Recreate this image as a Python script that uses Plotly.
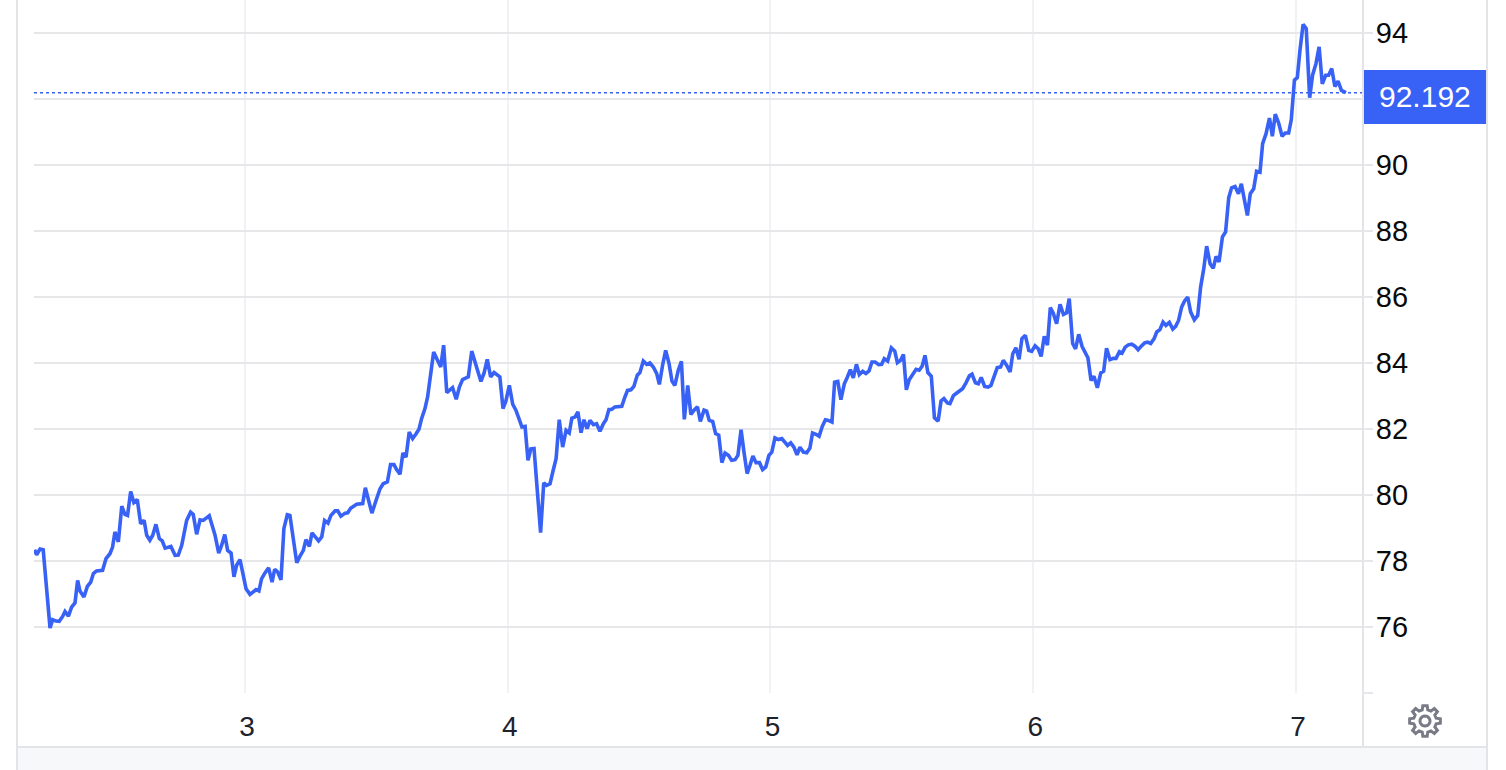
import numpy as np
import plotly.graph_objects as go

x_values = [
    2.199, 2.207, 2.220, 2.232, 2.258, 2.268, 2.281, 2.293, 2.306, 2.315, 2.328, 2.340, 2.353, 2.363, 2.372, 2.387,
    2.400, 2.413, 2.423, 2.435, 2.458, 2.471, 2.486, 2.496, 2.505, 2.518, 2.531, 2.543, 2.553, 2.565, 2.577, 2.590,
    2.603, 2.616, 2.626, 2.638, 2.649, 2.661, 2.674, 2.685, 2.696, 2.718, 2.734, 2.746, 2.759, 2.778, 2.793, 2.803,
    2.816, 2.829, 2.841, 2.864, 2.886, 2.900, 2.911, 2.923, 2.934, 2.947, 2.958, 2.968, 2.981,
    2.991, 3.004, 3.019, 3.034, 3.042, 3.053, 3.063, 3.076, 3.090, 3.103, 3.113, 3.124, 3.137, 3.148, 3.161, 3.171,
    3.184, 3.197, 3.209, 3.222, 3.232, 3.245, 3.255, 3.268, 3.280, 3.292, 3.303, 3.316, 3.327, 3.343, 3.353, 3.365,
    3.381, 3.391, 3.402, 3.425, 3.448, 3.458, 3.471, 3.483,
    3.499, 3.514, 3.526, 3.542, 3.554, 3.567, 3.577, 3.590, 3.601, 3.613, 3.625, 3.638, 3.650, 3.662, 3.672, 3.685,
    3.695, 3.708, 3.718, 3.745, 3.756, 3.768, 3.790, 3.804, 3.816, 3.828, 3.850, 3.863, 3.886, 3.898, 3.910, 3.922,
    3.935, 3.948, 3.970, 3.982, 3.993, 4.006, 4.019, 4.031, 4.043, 4.054, 4.066, 4.077, 4.088, 4.100, 4.125, 4.137,
    4.148, 4.161, 4.173, 4.184, 4.196, 4.209, 4.222, 4.234, 4.244, 4.256, 4.267,
    4.279, 4.290, 4.302, 4.313, 4.326, 4.338, 4.351, 4.364, 4.374, 4.385, 4.395, 4.408, 4.434, 4.446, 4.456, 4.469,
    4.480, 4.493, 4.503, 4.516, 4.529, 4.541, 4.554, 4.567, 4.577, 4.590, 4.601, 4.614, 4.625, 4.636, 4.649, 4.661,
    4.672, 4.685, 4.697, 4.709, 4.722, 4.733,
    4.747, 4.757, 4.767, 4.780, 4.791, 4.803, 4.815, 4.827, 4.840, 4.852, 4.865, 4.876, 4.888, 4.899, 4.911, 4.922,
    4.933, 4.945, 4.958, 4.970, 4.982, 4.994, 5.005, 5.017, 5.030, 5.043, 5.055, 5.065, 5.077, 5.089, 5.101, 5.112,
    5.125, 5.138, 5.150, 5.160, 5.173, 5.185, 5.197, 5.209, 5.220, 5.234, 5.244, 5.256, 5.268, 5.281, 5.292, 5.304,
    5.315, 5.327, 5.338, 5.351, 5.363, 5.375, 5.386, 5.398, 5.412, 5.423, 5.433, 5.446,
    5.460, 5.473, 5.483, 5.495, 5.506, 5.517, 5.528, 5.541, 5.554, 5.566, 5.577, 5.588, 5.599, 5.612, 5.624, 5.638,
    5.649, 5.660, 5.673, 5.683, 5.696, 5.709, 5.721, 5.731, 5.744, 5.757, 5.767, 5.780, 5.791, 5.802, 5.815, 5.828,
    5.839, 5.851, 5.863, 5.876, 5.886, 5.899, 5.912, 5.922, 5.934, 5.946, 5.957, 5.970, 5.983, 5.994, 6.007, 6.019,
    6.030, 6.042, 6.054, 6.065, 6.076, 6.089, 6.102, 6.115, 6.127, 6.137, 6.150, 6.161, 6.173, 6.186,
    6.197, 6.208, 6.220, 6.231, 6.244, 6.257, 6.268, 6.279, 6.292, 6.305, 6.315, 6.328, 6.338, 6.350, 6.362, 6.375,
    6.387, 6.399, 6.411, 6.424, 6.435, 6.447, 6.460, 6.470, 6.482, 6.494, 6.505, 6.518, 6.531, 6.542, 6.553, 6.565,
    6.576, 6.588, 6.599, 6.613, 6.626, 6.637, 6.649, 6.660, 6.673, 6.685, 6.696, 6.707, 6.720, 6.732, 6.744, 6.755,
    6.768, 6.781, 6.792, 6.803, 6.815, 6.826, 6.839, 6.850, 6.863,
    6.873, 6.886, 6.899, 6.910, 6.921, 6.934, 6.947, 6.959, 6.972, 6.982, 6.994, 7.005, 7.015, 7.027, 7.039, 7.052,
    7.063, 7.076, 7.088, 7.100, 7.113, 7.124, 7.136, 7.148, 7.160, 7.173, 7.190,
]

price_values = [
    78.34, 78.19, 78.36, 78.34, 75.97, 76.22, 76.18, 76.17, 76.32, 76.47, 76.33, 76.60, 76.73, 77.41, 77.09, 76.91,
    77.23, 77.36, 77.62, 77.70, 77.72, 78.07, 78.22, 78.42, 78.88, 78.58, 79.66, 79.41, 79.38, 80.11, 79.77, 79.86,
    79.13, 79.23, 78.78, 78.63, 78.78, 79.11, 78.68, 78.61, 78.39, 78.44, 78.17, 78.18, 78.47, 79.23, 79.48, 79.41,
    78.81, 79.25, 79.23, 79.37, 78.78, 78.24, 78.47, 78.80, 78.32, 78.24, 77.52, 77.87, 78.04,
    77.62, 77.16, 76.99, 77.09, 77.13, 77.09, 77.46, 77.64, 77.79, 77.36, 77.75, 77.67, 77.43, 78.98, 79.40, 79.38,
    78.58, 77.95, 78.14, 78.32, 78.65, 78.44, 78.85, 78.73, 78.61, 78.73, 79.23, 79.15, 79.38, 79.52, 79.52, 79.36,
    79.45, 79.46, 79.60, 79.72, 79.74, 80.22, 79.84, 79.45,
    79.84, 80.19, 80.34, 80.40, 80.92, 80.92, 80.77, 80.63, 81.27, 81.15, 81.91, 81.71, 81.84, 81.99, 82.31, 82.62,
    82.97, 83.68, 84.33, 83.88, 84.54, 83.10, 83.25, 82.90, 83.27, 83.50, 83.58, 84.36, 83.70, 83.44, 83.70, 84.11,
    83.58, 83.71, 83.58, 82.62, 82.85, 83.32, 82.75, 82.57, 82.31, 82.06, 82.08, 81.05, 81.40, 81.41, 78.86, 80.37,
    80.29, 80.34, 80.75, 81.10, 82.28, 81.45, 81.96, 81.88, 82.33, 82.36, 82.52,
    81.89, 82.28, 82.01, 82.26, 82.13, 82.16, 81.93, 82.16, 82.28, 82.59, 82.59, 82.67, 82.69, 82.97, 83.17, 83.19,
    83.29, 83.63, 83.71, 84.06, 83.96, 84.00, 83.88, 83.68, 83.35, 83.96, 84.38, 83.98, 83.45, 83.32, 83.78, 84.05,
    82.29, 83.32, 82.44, 82.57, 82.67, 82.23,
    82.57, 82.54, 82.26, 82.23, 81.86, 81.81, 80.98, 81.27, 81.20, 81.05, 81.07, 81.20, 81.98, 81.30, 80.65, 80.90,
    81.18, 80.98, 80.98, 80.77, 80.85, 81.20, 81.30, 81.73, 81.68, 81.71, 81.61, 81.50, 81.58, 81.45, 81.22, 81.45,
    81.30, 81.28, 81.42, 81.88, 81.84, 81.78, 82.08, 82.28, 82.26, 82.21, 83.42, 83.44, 82.89, 83.37, 83.56, 83.80,
    83.55, 83.96, 83.65, 83.75, 83.68, 83.76, 84.03, 84.03, 83.95, 83.96, 84.13, 84.06,
    84.46, 84.36, 84.01, 84.08, 84.26, 83.19, 83.49, 83.63, 83.81, 83.78, 83.90, 84.23, 83.71, 83.60, 82.34, 82.24,
    82.85, 82.92, 82.79, 82.77, 83.01, 83.09, 83.17, 83.22, 83.40, 83.61, 83.66, 83.40, 83.37, 83.56, 83.29, 83.27,
    83.32, 83.56, 83.86, 83.88, 84.08, 83.93, 83.73, 84.28, 84.46, 84.11, 84.74, 84.84, 84.38, 84.35, 84.52, 84.43,
    84.20, 84.81, 84.54, 85.68, 85.52, 85.19, 85.78, 85.47, 85.52, 85.95, 84.59, 84.43, 84.87, 84.50,
    84.33, 84.16, 83.47, 83.60, 83.25, 83.70, 83.75, 84.45, 84.10, 84.14, 84.14, 84.34, 84.30, 84.48, 84.55, 84.57,
    84.51, 84.40, 84.51, 84.61, 84.63, 84.59, 84.74, 84.94, 85.01, 85.24, 85.14, 85.23, 85.03, 85.11, 85.29, 85.70,
    85.88, 86.00, 85.55, 85.31, 85.44, 86.30, 86.86, 87.54, 87.01, 86.87, 87.23, 87.06, 87.82, 87.97, 89.01, 89.31,
    89.35, 89.13, 89.43, 88.98, 88.47, 89.13, 89.28, 89.81, 89.78,
    90.65, 90.95, 91.42, 90.87, 91.54, 91.27, 90.87, 90.97, 90.97, 91.37, 92.57, 92.65, 93.47, 94.26, 94.13, 92.04,
    92.72, 93.07, 93.58, 92.46, 92.72, 92.72, 92.92, 92.38, 92.54, 92.26, 92.192,
]

x_tick_values = [3, 4, 5, 6, 7]
x_tick_labels = ["3", "4", "5", "6", "7"]
y_tick_values = [74, 76, 78, 80, 82, 84, 86, 88, 90, 92, 94]
y_tick_labels = ["", "76", "78", "80", "82", "84", "86", "88", "90", "", "94"]
last_price = 92.192

W, H = 1506, 770
L, R, T, B = 34, 1362, 0, 693


def px(v):
    return (v - L) / (R - L)


def py(v):
    return (B - v) / (B - T)


BLUE = "#3861f6"
GRID = "#e7e7e9"
FRAME = "#e3e4e8"
VGRID = "#f0f3f6"
TEXT = "#131722"
FONT = "Liberation Sans, Arial, sans-serif"

fig = go.Figure()
fig.add_trace(go.Scatter(x=x_values, y=price_values, mode="lines",
                         line=dict(color=BLUE, width=3.6), hoverinfo="skip", showlegend=False))


def rect(x0, y0, x1, y1, fill, layer="below"):
    return dict(type="rect", xref="paper", yref="paper", x0=px(x0), x1=px(x1), y0=py(y0), y1=py(y1),
                fillcolor=fill, line=dict(width=0), layer=layer)


def gear_path(cx, cy, r_out, r_in, teeth=8):
    pts = []
    for i in range(teeth):
        a = 2 * np.pi * i / teeth
        w = np.pi / teeth
        for da, r in [(-0.62 * w, r_in), (-0.36 * w, r_out), (0.36 * w, r_out), (0.62 * w, r_in)]:
            pts.append((cx + r * np.sin(a + da), cy - r * np.cos(a + da)))
    return "M" + "L".join(f"{px(a):.5f},{py(b):.5f}" for a, b in pts) + "Z"


def circle_path(cx, cy, r, n=24):
    pts = [(cx + r * np.cos(2 * np.pi * i / n), cy + r * np.sin(2 * np.pi * i / n)) for i in range(n)]
    return "M" + "L".join(f"{px(a):.5f},{py(b):.5f}" for a, b in pts) + "Z"


shapes = [
    rect(18, 746, 1487, 770, "#f7f8fa"),
    rect(17, 746, 1487, 748, FRAME),
    rect(16, 0, 18, 770, FRAME),
    rect(1486, 0, 1488, 770, FRAME),
    rect(1362, 0, 1364, 746, FRAME),
    dict(type="line", xref="paper", yref="y", x0=0, x1=1, y0=last_price, y1=last_price,
         line=dict(color=BLUE, width=1.5, dash="dot"), layer="above"),
    rect(1364, 70, 1486, 124, BLUE, layer="above"),
    dict(type="path", xref="paper", yref="paper", path=gear_path(1425, 721, 15.5, 11.5),
         line=dict(color="#787b86", width=3), fillcolor="rgba(0,0,0,0)"),
    dict(type="path", xref="paper", yref="paper", path=circle_path(1425, 721, 5),
         line=dict(color="#787b86", width=3), fillcolor="rgba(0,0,0,0)"),
]

fig.update_layout(
    width=W, height=H, autosize=False,
    margin=dict(l=L, r=W - R, t=T, b=H - B, pad=0),
    paper_bgcolor="white", plot_bgcolor="white",
    font=dict(family=FONT, size=29, color=TEXT),
    showlegend=False, shapes=shapes,
    xaxis=dict(range=[2.197, 7.2512], tickmode="array", tickvals=x_tick_values, ticktext=x_tick_labels,
               showgrid=True, gridcolor=VGRID, gridwidth=2, zeroline=False, showline=False,
               ticks="outside", ticklen=8, tickcolor="rgba(0,0,0,0)", ticklabelshift=2,
               tickfont=dict(family=FONT, size=28, color="#1e222d")),
    yaxis=dict(range=[74, 95], side="right", tickmode="array", tickvals=y_tick_values, ticktext=y_tick_labels,
               showgrid=True, gridcolor=GRID, gridwidth=2, zeroline=False, showline=False,
               ticks="outside", ticklen=10, tickwidth=2, tickcolor=GRID, ticklabelstandoff=-3,
               tickfont=dict(family=FONT, size=29, color="#0a0a0a")),
    annotations=[dict(xref="paper", yref="y", x=px(1425), y=last_price, text=f"{last_price:.3f}",
                      showarrow=False, xanchor="center", yanchor="middle", yshift=-4,
                      font=dict(family=FONT, size=30, color="white"))],
)

assert len(x_values) == len(price_values)
fig.write_html("out.html", config=dict(displayModeBar=False),
               post_script="document.body.style.margin='0';document.body.style.overflow='hidden';")
